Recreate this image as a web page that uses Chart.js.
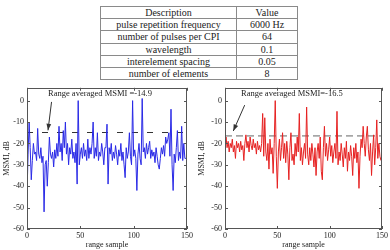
<!DOCTYPE html>
<html>
<head>
<meta charset="utf-8">
<script src="https://cdn.jsdelivr.net/npm/chart.js@4/dist/chart.umd.min.js"></script>
<style>
  body { margin: 0; width: 390px; height: 250px; background: #fff; position: relative; overflow: hidden; font-family: "Liberation Serif", serif; }
  table { position: absolute; left: 100px; top: 6px; width: 198px; border-collapse: collapse; font-size: 10px; color: #222; }
  td { border: 1px solid #8a8a8a; height: 11.2px; padding: 0; text-align: center; line-height: 11px; }
  .box { position: absolute; top: 80px; width: 195px; height: 170px; }
</style>
</head>
<body>
<table>
  <tr><td style="width:135px">Description</td><td>Value</td></tr>
  <tr><td>pulse repetition frequency</td><td>6000 Hz</td></tr>
  <tr><td>number of pulses per CPI</td><td>64</td></tr>
  <tr><td>wavelength</td><td>0.1</td></tr>
  <tr><td>interelement spacing</td><td>0.05</td></tr>
  <tr><td>number of elements</td><td>8</td></tr>
</table>
<div class="box" style="left:0"><canvas id="c1"></canvas></div>
<div class="box" style="left:195px"><canvas id="c2"></canvas></div>
<script>
// MSMI per range sample (dB)
const msmiBlue = [
  -44,-25,-10,-22,-37,-28,-20,-25,-24,-28, -13,-25,-27,-22,-29,-26,-52,-30,-28,-40,
  -29,-17,-25,-27,-24,-31,-23,-27,-20,-26, -12,-24,-20,-28,-14,-22,-10,-25,-20,-30,
  -22,-25,-18,-27,-24,-29,-20,-39,0,-30,   -25,-22,-27,-20,-26,-23,-28,-18,-27,-22,
  -25,-20,-10,-27,-22,-26,-15,-28,-24,-26, -20,-24,-30,-22,-22,-11,-39,-22,-25,-20,
  -28,-24,-27,-21,-25,-30,-23,-26,-20,-28, -24,-30,-36,-22,-27,-24,-15,-26,-30,0,
  -26,-23,-27,-42,-25,-20,-27,-30,1,-24,   -22,-27,-20,-25,-22,-19,-27,-23,-26,-24,
  -29,-22,-26,-30,-32,-27,-22,-25,-21,-26, -17,-20,-18,-15,-26,-4,-30,-42,-25,-29,
  -22,-14,-28,-24,-27,-12,-28,-20,-27,-27
];
const msmiRed = [
  -25,-17,-22,-19,-24,-20,-22,-18,-24,-21, -27,-19,-22,-20,-24,-19,-23,-21,-28,-20,
  -16,-22,-19,-24,-17,-21,-23,-18,-22,-20, -25,-19,-23,-21,-24,-20,-6,-26,-8,-24,
  -28,-20,-32,-18,-25,-22,-34,-20,0,-26,   -41,-24,-18,-28,-22,-15,-27,-20,-29,-19,
  -25,-37,-22,-15,-28,-25,-30,-20,-26,-17, -24,-6,-28,-22,-30,-24,-20,-27,-3,-25,
  -30,-22,-28,-20,-25,-31,-22,-35,-24,-20, -27,-17,-33,-37,-22,-12,-26,-20,-28,-23,
  -17,-26,-21,-29,-24,-20,-27,-5,-30,-24,  -28,-20,-25,-31,-22,-27,-19,-33,-24,-28,
  -21,-26,-35,-22,-27,-20,-29,-24,-41,-26, -18,-22,-12,-20,-26,-17,-12,-23,-28,-20,
  -35,-24,-16,-30,-22,-9,-27,-20,-26,-28
];
const avgBlue = -14.9;
const avgRed = -16.5;
const xTicks = [0, 50, 100, 150];
const yTicks = [0, -10, -20, -30, -40, -50, -60];

const serif = '"Liberation Serif", "Times New Roman", serif';

const frame = {
  id: 'frame',
  afterDatasetsDraw(chart, args, o) {
    const { ctx, chartArea: a, scales: { x, y } } = chart;
    ctx.save();
    ctx.strokeStyle = '#555';
    ctx.lineWidth = 1;
    ctx.strokeRect(Math.round(a.left) + 0.5, Math.round(a.top) + 0.5, Math.round(a.width) - 1, Math.round(a.height) - 1);
    ctx.beginPath();
    xTicks.forEach(v => {
      const px = Math.round(x.getPixelForValue(v)) + 0.5;
      ctx.moveTo(px, a.bottom); ctx.lineTo(px, a.bottom - 3);
      ctx.moveTo(px, a.top); ctx.lineTo(px, a.top + 3);
    });
    yTicks.forEach(v => {
      const py = Math.round(y.getPixelForValue(v)) + 0.5;
      ctx.moveTo(a.left, py); ctx.lineTo(a.left + 3, py);
      ctx.moveTo(a.right, py); ctx.lineTo(a.right - 3, py);
    });
    ctx.stroke();
    // annotation text + arrow
    ctx.fillStyle = '#222';
    ctx.font = '8.5px ' + serif;
    ctx.textBaseline = 'middle';
    ctx.fillText(o.text, x.getPixelForValue(o.tx), y.getPixelForValue(3));
    const x0 = x.getPixelForValue(o.ax0), y0 = y.getPixelForValue(o.ay0);
    const x1 = x.getPixelForValue(o.ax1), y1 = y.getPixelForValue(o.ay1);
    ctx.strokeStyle = '#333';
    ctx.beginPath(); ctx.moveTo(x0, y0); ctx.lineTo(x1, y1); ctx.stroke();
    const ang = Math.atan2(y1 - y0, x1 - x0);
    ctx.beginPath();
    ctx.moveTo(x1, y1);
    ctx.lineTo(x1 - 7 * Math.cos(ang - 0.35), y1 - 7 * Math.sin(ang - 0.35));
    ctx.lineTo(x1 - 7 * Math.cos(ang + 0.35), y1 - 7 * Math.sin(ang + 0.35));
    ctx.closePath();
    ctx.fillStyle = '#333';
    ctx.fill();
    ctx.restore();
  }
};

function makeChart(id, series, color, avg, dash, dashColor, ann, yWidth) {
  new Chart(document.getElementById(id), {
    type: 'line',
    data: {
      datasets: [
        { data: series.map((v, i) => ({ x: i, y: v })), borderColor: color, borderWidth: 1, pointRadius: 0, tension: 0 },
        { data: [{ x: 0, y: avg }, { x: 150, y: avg }], borderColor: dashColor, borderWidth: 1, borderDash: dash, pointRadius: 0 }
      ]
    },
    options: {
      responsive: true, maintainAspectRatio: false, animation: false,
      layout: { padding: { top: 4, right: 7, left: 0, bottom: 0 } },
      plugins: { legend: { display: false }, tooltip: { enabled: false }, frame: ann },
      scales: {
        x: {
          type: 'linear', min: 0, max: 150,
          afterFit: s => { s.height = 21; },
          afterBuildTicks: s => { s.ticks = xTicks.map(v => ({ value: v })); },
          grid: { display: false, drawTicks: false }, border: { display: false },
          ticks: { padding: 2, color: '#222', font: { family: serif, size: 8 }, maxRotation: 0 },
          title: { display: true, text: 'range sample', color: '#222', font: { family: serif, size: 8 }, padding: 0 }
        },
        y: {
          min: -60, max: 6,
          afterFit: s => { s.width = yWidth; },
          afterBuildTicks: s => { s.ticks = yTicks.map(v => ({ value: v })); },
          grid: { display: false, drawTicks: false }, border: { display: false },
          ticks: { padding: 3, color: '#222', font: { family: serif, size: 8 } },
          title: { display: true, text: 'MSMI, dB', color: '#222', font: { family: serif, size: 8 }, padding: { top: 2, bottom: 0 } }
        }
      }
    },
    plugins: [frame]
  });
}

makeChart('c1', msmiBlue, '#2a2ae6', avgBlue, [6, 9], '#333',
  { text: 'Range averaged MSMI =-14.9', tx: 19.7, ax0: 23, ay0: -0.6, ax1: 19.7, ay1: -13.9 }, 27);
makeChart('c2', msmiRed, '#e62222', avgRed, [7, 4], '#666',
  { text: 'Range averaged MSMI=-16.5', tx: 15.3, ax0: 18.8, ay0: -2.1, ax1: 7.9, ay1: -14.2 }, 30);
</script>
</body>
</html>
